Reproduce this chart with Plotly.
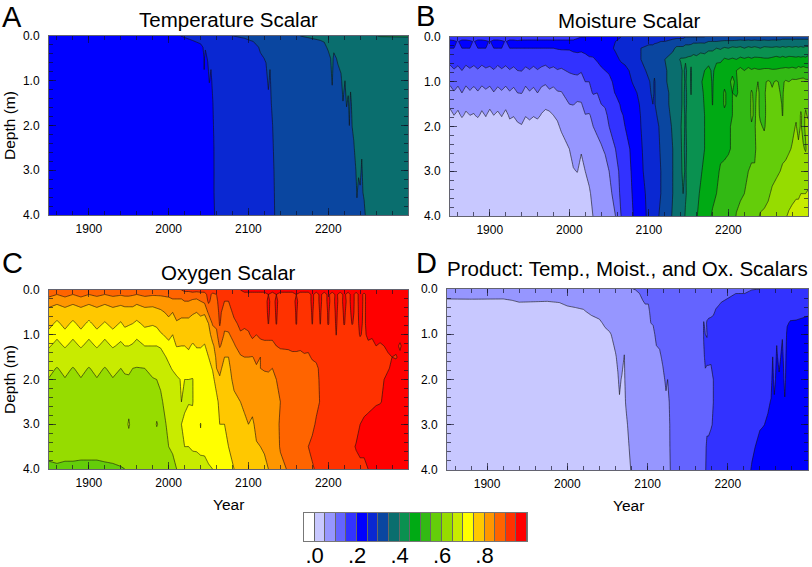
import numpy as np
import plotly.graph_objects as go

W, H = 812, 567

band_colors = ["#ffffff", "#c8c8ff", "#9696ff", "#6464ff", "#3232ff", "#0000ff", "#0a28d2", "#0a46a0",
               "#0a6e6e", "#0a9150", "#00aa14", "#32b914", "#64cd0a", "#96dc00", "#c8eb00", "#ffff00",
               "#ffc800", "#ff9600", "#ff6400", "#ff3200", "#ff0000"]
colorbar_labels = [".0", ".2", ".4", ".6", ".8"]
colorbar_label_values = [0.0, 0.2, 0.4, 0.6, 0.8]
year_ticks = [1900, 2000, 2100, 2200]
depth_ticks = [0, 1, 2, 3, 4]

# Soil scalars in percent, one profile per year
temp_depths = [0, .1, .25, .5, 1, 1.5, 2, 2.5, 3, 3.5, 4]
temp_profiles = [
 (1850,[22,22,22,22,22,22,22,22,22,22,22]),
 (1995,[23,22,22,22,22,22,22,22,22,22,22]),
 (2015,[25,22.5,22,22,22,22,22,22,22,22,22]),
 (2030,[26.5,25,22,22,22,22,22,22,22,22,22]),
 (2040,[27,26,24,22,22,22,22,22,22,22,22]),
 (2043,[27,26.5,25,22,22,22,22,22,22,22,22]),
 (2044.5,[27,27,26,25.5,24.5,22,22,22,22,22,22]),
 (2046,[27,27,25.5,23.5,22,22,22,22,22,22,22]),
 (2049,[27,27,26.5,25.5,22.5,22,22,22,22,22,22]),
 (2051,[27,27,27,27,25.3,22,22,22,22,22,22]),
 (2053,[27,27,27,26,24,22,22,22,22,22,22]),
 (2055,[27,27,27,27,26,24.5,24,24,24,23.5,23]),
 (2056.5,[27,27,27,27,27,26,25.3,24.7,24.5,24.7,24]),
 (2058,[27,27,27,27,27,27,27,26.5,26.5,26,25.5]),
 (2060,[27,27,27,27,27,27,27,27,27,27,27]),
 (2075,[29,27,27,27,27,27,27,27,27,27,27]),
 (2081,[30,27,27,27,27,27,27,27,27,27,27]),
 (2095,[31,29,27,27,27,27,27,27,27,27,27]),
 (2106,[32,30.5,27,27,27,27,27,27,27,27,27]),
 (2115,[32,32,31,29,27,27,27,27,27,27,27]),
 (2122,[32,32,32,30.5,28,27,27,27,27,27,27]),
 (2125,[32,32,32,32,31,28.5,27.5,27,27,27,27]),
 (2127,[32,32,32,31,29,27.5,27,27,27,27,27]),
 (2129,[32,32,32,32,32,30.5,28,27.5,27,27,27]),
 (2131,[32,32,32,32,32,32,31,29.7,29,28,27.5]),
 (2132.5,[32,32,32,32,32,32,32,32,30.5,30,29.7]),
 (2134,[32,32,32,32,32,32,32,32,32,31,31]),
 (2136,[32,32,32,32,32,32,32,32,32,32,32]),
 (2165,[35,32,32,32,32,32,32,32,32,32,32]),
 (2186,[37,34.5,32,32,32,32,32,32,32,32,32]),
 (2195,[37,35.5,33.5,32,32,32,32,32,32,32,32]),
 (2200,[37,36.5,36,33,32,32,32,32,32,32,32]),
 (2203,[37,37,36.5,35,33,32,32,32,32,32,32]),
 (2205,[37,37,37,36.5,35.5,33,32,32,32,32,32]),
 (2207,[37,37,36,34,32,32,32,32,32,32,32]),
 (2212,[37,37,37,35.5,33.5,32,32,32,32,32,32]),
 (2216,[37,37,37,36,34.5,33,32,32,32,32,32]),
 (2218.5,[37,37,37,37,36,34.9,33,32,32,32,32]),
 (2221,[37,37,37,36,35,33.5,32,32,32,32,32]),
 (2223,[37,37,37,37,37,35.3,33.5,32,32,32,32]),
 (2225,[37,37,37,37,36,34.5,32.5,32,32,32,32]),
 (2226.5,[37,37,37,37,37,36,35,33,32,32,32]),
 (2228,[37,37,37,37,36,34,33,32,32,32,32]),
 (2230,[37,37,37,37,37,36,35.1,33.5,32,32,32]),
 (2232,[37,37,37,37,37,37,36,34.5,33,32,32]),
 (2234,[37,37,37,37,37,37,37,36,34.5,33,32]),
 (2236,[37,37,37,37,37,37,37,37,36,35.3,34]),
 (2238,[37,37,37,37,37,37,37,37,35.5,34,33]),
 (2240,[37,37,37,37,37,37,37,37,36,34.5,33]),
 (2242,[37,37,37,37,37,37,37,35.5,34.5,34.5,33.5]),
 (2245,[37,37,37,37,37,37,37,37,37,35.5,34]),
 (2247,[38,37,37,37,37,37,37,37,37,36,35.4]),
 (2249,[38,37,37,37,37,37,37,37,37,37,37]),
 (2265,[40.5,37,37,37,37,37,37,37,37,37,37]),
 (2300,[41,37,37,37,37,37,37,37,37,37,37]),
]

moist_depths = [0, .1, .25, .5, .75, 1, 1.25, 1.5, 1.75, 2, 2.5, 3, 3.5, 4]
moist_profiles = [
 (1850,[18,21,20,17,13,11,8,6,3.5,3,2,2,2,2]),
 (1855,[18,20.5,20,17,14.7,11,9.8,6,5,3.5,2,2,2,2]),
 (1860,[18,19.8,20,17,13.5,11,8.5,6,4.2,3,2,2,2,2]),
 (1865,[18,21,20,17,15,11,10,6,5.5,3,2,2,2,2]),
 (1870,[18,21,20,17,13.2,11,8.3,6,4.4,3,2,2,2,2]),
 (1875,[18,20.5,20,17,14.5,11,9.7,6,5,3.5,2,2,2,2]),
 (1880,[18,19.8,20,17,13.4,11,8.6,6,4.8,3,2,2,2,2]),
 (1885,[18,21,20,17,14.7,11,9.8,6,5.5,3,2,2,2,2]),
 (1890,[18,21,20,17,13.2,11,8.3,6,4.3,3,2,2,2,2]),
 (1895,[18,20.5,20,17,14.4,11,9.5,6,5.2,3.5,2,2,2,2]),
 (1900,[18,19.8,20,17,13.8,11,8.5,6,3.8,3,2,2,2,2]),
 (1905,[18,21,20,17,14.8,11,9.9,6,5,3.5,2,2,2,2]),
 (1910,[18,21,20,17,13.4,11,8.8,6,4.4,3,2,2,2,2]),
 (1915,[18,20.5,20,17,14.6,11,9.7,6,5.2,3.5,2,2,2,2]),
 (1920,[18,19.8,20,17,13.5,11,8.5,6,4,3,2,2,2,2]),
 (1925,[18,21,20,17,14.8,11,9.8,6,5.5,4,2,2,2,2]),
 (1930,[18,21,20,17,14,11,9,6,5.2,3.5,2,2,2,2]),
 (1935,[18,20.5,20,17,15,11,10,6,5.8,4.5,2,2,2,2]),
 (1940,[18,21,20,17,15.2,11,10.2,6,5.9,4.8,2,2,2,2]),
 (1945,[18,21,20,17,14,11,8.5,6,5.2,3.5,2,2,2,2]),
 (1950,[18,21,20,17,14.8,11,9.8,6,5.7,4,2,2,2,2]),
 (1955,[18,21,20,17,13.8,11,9,6,5.2,3.5,2,2,2,2]),
 (1960,[18,21,20,17,14.8,11,10,6,5.6,3.8,2,2,2,2]),
 (1965,[18,21,20,17,14,11,8.8,6,4.8,3,2,2,2,2]),
 (1970,[18,21,20,17,13.2,10.7,8,5.9,4,3,2,2,2,2]),
 (1975,[18,21,20,17,14.5,11,9.5,6,4.4,3.5,2,2,2,2]),
 (1980,[18,21,20,17,14,11,8.8,6.5,5,3.5,2,2,2,2]),
 (1985,[18,21,20.3,17,14.8,11,9.8,7,5.5,4.5,2.5,2,2,2]),
 (1990,[18,21,20.5,17,14.5,11.5,9.8,8,6.5,5.5,3.5,2,2,2]),
 (2000,[18,21,20.5,17.5,15.5,13,11.5,10,8.5,7.5,5,3.5,2,2]),
 (2005,[18,21,21,18,15.5,14,11,10.1,9,7.5,6,4.8,2.8,2]),
 (2010,[19,22,21,18.5,16,13.5,11,9.7,8.5,8,6.5,5.1,3,2]),
 (2015,[20,22,21,18,15.3,13.5,12,9.6,9,8,5.3,4,3,2]),
 (2020,[20,23,21,19,16.5,15,13,12,9.8,8.5,7,5,3.5,2]),
 (2025,[21,23,21.5,19.5,17.5,15,14,12.5,9.5,9,7.5,6,4.5,2.5]),
 (2030,[22,23,22,19.5,17.5,16,15.3,13,11.5,10,8,7,6,5.2]),
 (2035,[23,23,22,20.5,18,17.2,15,14,12,11,8.5,7.5,6,5]),
 (2040,[24,24,23,21,19.5,17.5,16,15,12.5,11.5,9.6,8,7,6]),
 (2045,[24,24.5,23.5,21.5,20,18.5,17,15.5,14,12,10.5,8.5,7.5,6.5]),
 (2050,[24,25,24,22,20.5,19,18,17,16,15,12,10,8.5,7]),
 (2058,[24,25,25.5,24,22,21,20.3,18,17,16,15,13,12,10]),
 (2065,[25,26,27,25.5,23.5,22,21,20.6,19.5,18.5,17.5,16.5,16,15]),
 (2070,[26,27,28,26,24,23,22,21,20.5,20,18.5,17.5,17,16.5]),
 (2080,[27,28,29,28,26,25.3,24,23,22,21.5,21,20.8,20.4,19.9]),
 (2090,[27,28.5,30,30,28.5,27,26,25.5,25.2,25,24.8,24.6,24,23]),
 (2100,[27,29,31,31,31,29.7,29,28,27,26.5,26,26,25.8,26]),
 (2105,[28,29,31,32,31,31,31,30,28.5,27.5,27,27,27,27]),
 (2107,[28,29.5,31,32,31,29.5,29.5,29.5,29,28.5,28,28,28,28]),
 (2110,[28,29.5,31.5,32.5,32,32,31.5,31.5,30,29,28.5,29,28.7,29]),
 (2115,[28,30,32,33,33,32,32,32,31.5,31,30.5,30,30,31]),
 (2120,[28,30,33,35,34,34.5,34.8,33,32,32,31.5,31,31,32]),
 (2125,[28.5,30.5,33,36,36,35.5,35,35,34.5,34,33.5,33.5,33,33.5]),
 (2130,[29,31,34,37,37.5,37,36,36,36,35.5,35,35,35,35.5]),
 (2135,[29,32,36,38.5,38,38,37.5,37.5,37.5,37,37,37,36.5,37]),
 (2140,[29,32,36,40.5,38.5,39,39,39,39.5,39.8,39.5,39,38,37.5]),
 (2143,[29,32,36,40.5,41,41,41,41,41,41,41,41,40,38.5]),
 (2146,[30,33,37,40.5,39,39.5,39,39,39.5,39.5,39,39.5,39.5,40.5]),
 (2150,[30,33,37,41,42,42,42,42,42,42,42,42,41.5,41]),
 (2153,[30,33,37.5,41,39.5,39.5,39.8,41,42,42,42,42,42,42]),
 (2156,[30,34,38,41.5,43,43,43,43,43,43,43,43,43.5,43.5]),
 (2160,[30,34,38,41,43,43,43,43,43,43,43,43,44,44.8]),
 (2165,[30,34,38.5,42,44,44.5,44,44,44,44,44,44.5,45.5,46]),
 (2170,[30,34,38,42,45,46,45.5,45.2,45,45,45,46,47,47]),
 (2175,[31,35,39,43,46.5,47,47,47,47,47,47,47,48,49]),
 (2180,[31,35,39,43,44,44.5,44.7,44.9,46,47,47,48,49,50.5]),
 (2185,[31,35,40,44,47,48,48,48,48,48,48,49,50,51]),
 (2190,[31,35.5,39.5,44,47.5,48,48,48,48,49,49,50.5,51,51]),
 (2195,[31,36,40.5,45.5,48,49,50.5,50.5,49,49,49,51,51.5,52]),
 (2200,[31,36,40,45,49,49.5,49,49,49.5,49.5,49.5,51.5,52,52]),
 (2205,[31,36,41,45.5,49.5,50.5,50,50,50,50.5,50.5,52,53,53.5]),
 (2210,[32,36,40.5,45,50,49.5,49,52,52,52,52,53,54,55.2]),
 (2215,[32,36.5,41,46,51.5,52,52,52,52,52,52,53,54.5,56]),
 (2220,[32,36,40,45.5,50,53,52,53,53,53,53,54,55,56.5]),
 (2225,[32,36.5,41,46,51.5,53.5,53,53.5,54,54,54,55,56,57.5]),
 (2229,[32,36,40.5,45.5,50.5,53.5,55.5,55.5,55.3,54.8,54.5,55.3,57,58.5]),
 (2233,[32,36.5,41,46,51,53.5,54,54.5,54.7,54.8,54.5,55.3,57,59]),
 (2237,[32,36,40.5,46,50.5,55,56,56,55.8,56,56,56.5,58,59.7]),
 (2240,[32,36,40,46,50.5,54,54,54,54.5,55.5,56.5,57,59,60.2]),
 (2245,[32,36.5,41,45.5,51,54.5,54.5,54,54,54.5,57,57.5,59,60.5]),
 (2250,[32,36,40.8,45.5,51,55.5,56.5,57,57,57,57.5,58,59.5,61]),
 (2255,[32,36.5,40.5,46,50.5,54.5,55.5,57,57,57,57.5,59,60.5,62]),
 (2260,[32,36.5,41,46.5,50.5,55.5,57,57,57.5,57.5,58,59.5,61,62.5]),
 (2265,[32.5,36.5,40.5,46,51,54.5,55,56,57,58,58.5,60,62,63.5]),
 (2268,[33,37,41,46.5,51,54.5,54.5,54.5,54.8,58,59,60.5,62,64]),
 (2272,[33,37,40.5,46,51.5,55.5,57,58,58,58,59,61,62.5,64.7]),
 (2276,[33,37,41,46.5,51,55,57,58,58.5,58.5,59.5,62,63.5,65.5]),
 (2280,[33,37,40.5,46.5,51.5,56,58,58,59,59,60.3,62.5,64,66]),
 (2285,[33,37,41,46,51,56,58,58,59.5,60.3,61,63,64.5,66.5]),
 (2288,[33,37,40.5,46.5,52,56,58,59,58,58.5,61,63,64.5,66.5]),
 (2291,[33,37,41,46,51.5,56.5,58,59,60.5,60.5,61.5,63,65,67]),
 (2294,[33,37,40.5,46.5,52,56.5,57.5,59,59,58.5,60.5,63,65,67]),
 (2297,[33,37,41,46,51.5,56,58,59.5,60.5,61,59.5,63.5,65,67.5]),
 (2300,[33,37,41,47,51,56,57.5,59,59.5,61,62,63.5,65.3,68]),
]

oxy_depths = [0, .1, .25, .5, .75, 1, 1.25, 1.5, 1.75, 2, 2.5, 3, 3.5, 4]
oxy_profiles = [
 (1850,[88,86.5,82.5,78,76.5,73.5,70.5,67.5,66,64.8,62.5,62,61.5,59.2]),
 (1860,[88,85,81,77.5,74,71,68.5,67,64.8,63.5,62.5,62,61.5,59.5]),
 (1870,[88,86.5,82.5,78,76.5,73.5,70.5,67.5,66,64.8,62.5,62,61.5,59.2]),
 (1880,[88,85,81,77.5,74,71,68.5,67,64.8,63.5,62.5,62,61.5,59.2]),
 (1890,[88,86.5,82.5,78,76.5,73.5,70.5,67.5,66,64.8,62.5,62,61.5,59]),
 (1900,[88,85,81,77.5,74,71,68.5,67,64.8,63.5,62.5,62,61.5,59]),
 (1910,[88,86,82.5,78,76.5,73.5,70.5,67.5,66,64.8,62.5,62,61.5,59]),
 (1920,[88,85,81,77.5,74.5,71,68.5,67,64.8,63.5,62.5,62,61.5,59.3]),
 (1930,[88,86,82.5,78,76.5,73.5,70.5,67.5,66,64.8,62.5,62,61.5,59.5]),
 (1940,[88,85.5,81.5,77.5,74.5,71.5,69,67,65,64,62.5,62,61.5,59.8]),
 (1945,[88,86,82,78,76,73,70,67.5,65.5,64.5,62.5,62,61.5,60]),
 (1950,[88,86,82,78,75.5,72.5,70,67.5,65.7,64.5,62.5,65.8,61.5,60.5]),
 (1955,[88,85.5,82,78,75,72,69.5,67,65,64,62.5,62,61.5,60.7]),
 (1960,[88,85,81,77.5,74,71,68.5,67,64.8,63.5,62.5,62,61.5,61]),
 (1970,[88,86,82.5,78,76,73,70,67.5,65,64.5,62.5,62,61.5,61]),
 (1980,[88,85.5,82,78,75.5,72.5,70,67.5,66,64.8,62.5,62.5,62,61]),
 (1985,[88,85.5,82.5,78.5,76,73,70,67.5,66,65,63,65.3,62.5,61]),
 (1990,[88,85.5,83,79,77,74.5,70.5,68,67,65.5,64.5,64,62.5,60.5]),
 (2000,[89,86,83.5,81,78.5,76,74,71,69,68,66.5,65.5,65,62.5]),
 (2005,[89,87,84,80,78,75,73.5,71.2,70.5,68,67,66,65.5,64]),
 (2010,[90,87,84,81.5,79.5,77,75.2,72.5,71,69.5,68.5,68,66.5,65]),
 (2016,[90,87,84,81,79,77,75,73,71.5,70.2,70,70,69.7,67]),
 (2020,[91,88,85,80.5,79.5,76,75,74,71.5,70,69.5,70.5,70,67.5]),
 (2025,[91,88,85,81,79,77,75.5,74,73,70,69.8,71.5,70,68.5]),
 (2030,[92,88,84,80.5,78,76.5,74.5,74,72,69.8,69.8,71,70.3,68.8]),
 (2035,[92,87,84,80,78,76.5,75.2,74,73.5,72.5,72,71.5,70.3,69]),
 (2040,[92,88,85,81,78,75.5,75.2,74,73,72.5,72,69.9,70.5,69.2]),
 (2045,[92,88,86,80.5,78,76,74.8,73.5,73,72.5,72,71.5,70.5,69.3]),
 (2050,[93,92,91,86,80,78,76,75,74,73,72.5,72,71,69.7]),
 (2055,[92,89,88,87,85.5,82,79,76.5,75.2,74,73,72,71.3,70]),
 (2060,[92,90,89,88,86,84,82,81,80,76.5,74,73,72,70.3]),
 (2064,[92,93,92,91,90.5,88,85.5,82,81,79.5,76,75,73,71]),
 (2070,[93,91,90,88,86,84.5,83,80,78.5,78,76.5,75,73.5,71.5]),
 (2075,[93,92,90,88,86.5,84.5,82,80,79,78.5,77,76,75,73]),
 (2082,[94,93,92,91,89,86.5,84.5,83,82,81,79,78,77,75]),
 (2090,[95,93.5,93,92,91,89.5,87,84.5,83,82,80,79,78.5,78]),
 (2095,[96,94,93,92,90.8,89,86,85,83.5,82,80.5,79.5,78.5,78]),
 (2100,[96,94,93,92,91,89.5,87,85,84,83,81.5,80,79,78.5]),
 (2105,[96,94,93,92,91,90.8,88.5,84.8,84.5,83,82,79,79,78.5]),
 (2110,[96,94,93,92,91,90,88,86,84.5,83.5,82,81.5,79.5,78.5]),
 (2115,[96,94,93,92,91,90.5,89.2,85,85,83.5,82,80.5,80,79]),
 (2120,[96,94,93,92,91.5,90.5,89.5,87,85.5,83.5,82,81,80.5,79]),
 (2125,[96,95,96,96,95.2,90.5,89.5,87.5,85.5,84,82.5,81.5,81,80]),
 (2130,[96,94,93,92,91.5,91,89,87.5,85,84,83,82.5,82,81]),
 (2135,[96,95,96,95.8,95.3,91,90,88,86,85,84.5,84,83,82]),
 (2140,[96,94,93,92,91.5,91,90.5,88.5,87,86,85,85.5,85.5,83.5]),
 (2150,[96,94,93,92,91.5,91.2,90.5,89,87,86.5,86.5,86.5,86.5,85.5]),
 (2155,[96,94,93,92.5,92,91.5,90.5,89.5,88,87,87,87,87,86.5]),
 (2160,[96,95,96,95.5,95.3,91.5,90.5,89.5,88,87,87.2,87.5,87.5,87]),
 (2165,[96,94,93,92.5,92,91.5,90.7,89,88,87.5,87.5,87.5,88,87.5]),
 (2170,[96,94,93,92.5,92,91.5,91,89.5,88.5,88,88,88,88.5,88]),
 (2175,[96,94,93,92.5,92,91.5,91,89.3,88.5,88,88.5,88.5,90,88.5]),
 (2180,[96,95.5,96,95.5,95.2,92,91,90.5,88.5,88.5,88.5,89,91,89.5]),
 (2185,[96,94,93,92.5,92,92,91,90.5,89.5,89,89,90.5,91,90.5]),
 (2190,[96,95.5,96,95.5,95.2,92,91,91,90.5,90.5,90.2,91,91.5,91.5]),
 (2195,[96,94,93,92.5,92,92,91.5,91.5,91,91,91,91.5,92,92]),
 (2200,[96,95.5,96,95.5,95.4,92,92,92,91.5,91.5,91.5,92,92,92]),
 (2205,[96,94,93.5,93,92.5,92,92,92,92,92,92,92.5,92.5,92.5]),
 (2210,[96,95.5,96,95.7,95.5,95.1,92.5,92,92,92,92,92.5,93,93]),
 (2215,[96,94,93.5,93,92.5,92.5,92.5,92.5,92.5,92.5,92.5,93,93,93]),
 (2220,[96,95.5,96,95.6,95.3,93,93,92.5,93,93,93,93,93.5,93.5]),
 (2225,[96,94,94,93.5,93,93,93,93,93,93,93,93.5,94,94]),
 (2230,[96,96,96,95.8,95.2,93,93,93,93,93,93,94,94.5,94]),
 (2235,[96,94,94,94,94,94,94,94,94,94,94,94,95.2,94]),
 (2240,[96,96,96,95.8,95.6,95.2,94,94,94,94,94,95,95.5,94.5]),
 (2245,[96,94.5,94.5,94.5,94.5,94.5,94,94,94,94,94,95.5,95.5,94.5]),
 (2250,[96,96,96,96,96,95.5,94.5,94,94,94,94.2,95.8,96,95]),
 (2255,[96,95.5,96,96,96,95.5,94,94,94.2,94.3,94.5,96,96,95.8]),
 (2260,[96,96,96,96,96,95.5,95,94,94.3,94.5,94.8,96,96,96]),
 (2265,[96,96,96,96,96,95.5,94.8,94.5,94.5,94.8,94.9,96,96,96]),
 (2270,[96,96,96,96,96,95.5,95,94.7,94.7,95,95.2,96,96,96]),
 (2275,[96,96,96,96,96,96,95.3,94.8,94.9,95.3,96,96,96,96]),
 (2280,[96,96,96,96,96,96,95.5,95,95.2,96,96,96,96,96]),
 (2285,[96,96,96,96,96,96,95.3,94.9,95.5,96,96,96,96,96]),
 (2290,[96,96,96,96,96,95.5,94.8,95.3,96,96,96,96,96,96]),
 (2295,[96,96,96,96,96,96,95.5,96,96,96,96,96,96,96]),
 (2300,[96,96,96,96,96,96,96,96,96,96,96,96,96,96]),
]

prod_depths = [0, .1, .25, .5, .75, 1, 1.5, 2, 2.5, 3, 3.5, 4]
prod_profiles = [
 (1850,[8,7,4.5,3,3,3,3,3,3,3,3,3]),
 (1880,[8,7,4.6,3,3,3,3,3,3,3,3,3]),
 (1920,[8,7,4.5,3,3,3,3,3,3,3,3,3]),
 (1940,[8,7,5.4,3,3,3,3,3,3,3,3,3]),
 (1975,[8,7,5.2,3,3,3,3,3,3,3,3,3]),
 (1990,[8,7,5.5,3,3,3,3,3,3,3,3,3]),
 (2000,[8,7,6,4,3,3,3,3,3,3,3,3]),
 (2010,[8,7,6.4,4.2,3,3,3,3,3,3,3,3]),
 (2020,[8,7,7,4.5,3,3,3,3,3,3,3,3]),
 (2030,[8,7,7,6,3,3,3,3,3,3,3,3]),
 (2040,[8,7,7,7,4,3,3,3,3,3,3,3]),
 (2047,[8,7,7,7,6,3.5,3,3,3,3,3,3]),
 (2053,[8,7,7,7,7,4.5,3,3,3,3,3,3]),
 (2056,[8,7,7,7,7,5.5,3,3,3,3,3,3]),
 (2060,[8,7,7,7,7,7,4.5,3,3,3,3,3]),
 (2063,[8,7,7,7,7,7,6,4.5,3,3,3,3]),
 (2065,[8,7,7,7,7,7,7,6,4.5,3,3,3]),
 (2068,[8,7,7,7,7,7,7,4.5,3.5,3,3,3]),
 (2071,[8,7,7,7,7,7,4.8,4,3.5,3,3,3]),
 (2073,[8,7,7,7,7,7,7,7,5.5,3.5,3,3]),
 (2075,[9,7,7,7,7,7,7,7,7,5,4,3]),
 (2077,[10,8,7,7,7,7,7,7,7,7,5,4]),
 (2079,[10,8,7,7,7,7,7,7,7,7,7,5]),
 (2082,[10,8,7,7,7,7,7,7,7,7,7,7]),
 (2085,[10.5,8,7,7,7,7,7,7,7,7,7,7]),
 (2090,[11,10,7.5,7,7,7,7,7,7,7,7,7]),
 (2094,[12,11,10,9,7.5,7,7,7,7,7,7,7]),
 (2097,[12,12,10.5,9,8,7,7,7,7,7,7,7]),
 (2101,[12,12,10.5,9,7.5,7,7,7,7,7,7,7]),
 (2104,[12,12,12,11,10,8,7,7,7,7,7,7]),
 (2107,[12,12,12,11,10.3,9,7,7,7,7,7,7]),
 (2111,[12,12,12,12,12,11,9,7,7,7,7,7]),
 (2115,[12,12,12,12,12,12,9,7.5,7,7,7,7]),
 (2119,[12,12,12,12,12,12,11,8.5,7,7,7,7]),
 (2123,[12,12,12,12,12,12,12,11,9,7.5,7,7]),
 (2125,[12,12,12,12,12,12,12,10,8.5,7.5,7,7]),
 (2127,[12,12,12,12,12,12,12,12,10,9,8.5,8]),
 (2129,[12,12,12,12,12,12,12,12,12,12,12,11]),
 (2150,[12,12,12,12,12,12,12,12,12,12,12,12]),
 (2168,[12,12,12,12,12,12,12,12,12,12,12,12]),
 (2170,[12,12,12,12,15.4,15.4,14.2,13,12,12,12,12]),
 (2172,[12,12,12,12,13.5,15,16,14,13,13,14,14.5]),
 (2174,[12,12,12,13,15.5,14.9,15.6,14,14,14,16,16.5]),
 (2176,[12,12,12,13.5,16,16,15.6,14,14,14,16,17]),
 (2179,[12,12,12,14,16,17,15.5,14,14,14.5,17,17]),
 (2182,[12,12,13,14.5,16,17,16,15,15,15.5,17,17]),
 (2185,[12,13,14,15.3,17,17,17,17,17,17,17,17]),
 (2192,[13,14,14.8,16,17,17,17,17,17,17,17,17]),
 (2200,[14,14.5,15.2,17,17,17,17,17,17,17,17,17]),
 (2210,[14.5,15,16,17,17,17,17,17,17,17,17,17]),
 (2221,[14.5,15,16.5,17,17,17,17,17,17,17,17,17]),
 (2230,[14.8,15.8,17,17,17,17,17,17,17,17,19,20.5]),
 (2240,[15,16,17,17,17,17,17,17,17,19.5,21.5,22]),
 (2244,[15.2,16.5,17,17,17,17,17,17,18,19.8,22,22]),
 (2250,[16,17,17,17,17,17,17,18,19.5,20.5,22,22]),
 (2254,[16,17,17,17,17,17,18,19,20.2,22,22,22]),
 (2256,[17,17,17,17,17,18.5,20,21,22,22,22,22]),
 (2258,[17,17,17,17,17,17,18,19,20.5,22,22,22]),
 (2261,[17,17,17,17,18,19.5,20.5,21,22,22,22,22]),
 (2264,[17,17,17,17,17,17,19,20.5,22,22,22,22]),
 (2268,[17,17,17,17,18,19.7,21,22,22,22,22,22]),
 (2271,[17,17,17,17,17,17,18,19,20.3,22,22,22]),
 (2274,[17,17,17,18,19.5,21,22,22,22,22,22,22]),
 (2278,[17,17,17,18,20.5,22,22,22,22,22,22,22]),
 (2285,[17,17,17,18.5,20.5,22,22,22,22,22,22,22]),
 (2300,[17,17,17,19,21.5,22,22,22,22,22,22,22]),
]

colorbar_bins = list(range(21))

def px_dom(a, b, total):
    return [a / total, b / total]

def flip(a, b):
    return [1 - b / H, 1 - a / H]

# suffix, depths, profiles, x px, y px, title, title x, title y, letter, letter x, letter y
panels = [
    ("", temp_depths, temp_profiles, (49, 408), (36, 215), "Temperature Scalar", 228, 19, "A", 0, 17),
    ("2", moist_depths, moist_profiles, (450, 808), (37, 216), "Moisture Scalar", 629, 20, "B", 414, 16),
    ("3", oxy_depths, oxy_profiles, (49, 408), (290, 469), "Oxygen Scalar", 228, 273, "C", 0, 263),
    ("4", prod_depths, prod_profiles, (447, 808), (289, 470), "Product: Temp., Moist., and Ox. Scalars", 627, 269, "D", 414, 263),
]

colorscale = [[i / 20, c] for i, c in enumerate(band_colors)]
FONT = "Liberation Sans"
fig = go.Figure()
layout = dict(width=W, height=H, margin=dict(l=0, r=0, t=0, b=0), autosize=False,
              paper_bgcolor="white", plot_bgcolor="#666666", showlegend=False,
              font=dict(family=FONT, color="black"))
annotations = []
AXC = "rgba(15,15,35,0.65)"

def add_text(text, x, y, size, angle=0):
    annotations.append(dict(text=text, xref="paper", yref="paper", x=x / W, y=1 - y / H,
                            xanchor="center", yanchor="middle", showarrow=False, textangle=angle,
                            font=dict(size=size, family=FONT, color="black")))

for idx, (sfx, depths, profiles, xr, yr, title, tx, ty, letter, lx, ly) in enumerate(panels):
    years = [p[0] for p in profiles]
    z = np.array([p[1] for p in profiles], dtype=float).T / 100
    fig.add_trace(go.Contour(
        x=years, y=depths, z=z, xaxis="x" + sfx, yaxis="y" + sfx, showscale=False,
        colorscale=colorscale, autocontour=False,
        contours=dict(start=0, end=0.95, size=0.05, coloring="fill", showlines=True),
        line=dict(color="#101010", width=0.6, smoothing=0),
        hoverinfo="skip"))
    layout["xaxis" + sfx] = dict(
        domain=px_dom(xr[0], xr[1], W), anchor="y" + sfx, range=[1850, 2300], automargin=False,
        tickmode="array", tickvals=year_ticks, ticks="inside", ticklen=7, tickwidth=1, tickcolor=AXC,
        minor=dict(dtick=20, tick0=1860, ticks="inside", ticklen=4, tickwidth=1, tickcolor=AXC),
        showgrid=False, zeroline=False, showline=True, linewidth=1, linecolor=AXC, mirror="ticks",
        tickfont=dict(size=12, family=FONT), ticklabelstandoff=3)
    layout["yaxis" + sfx] = dict(
        domain=flip(yr[0], yr[1]), anchor="x" + sfx, range=[4, 0], automargin=False,
        tickmode="array", tickvals=depth_ticks, tickformat=".1f", ticks="inside", ticklen=7, tickwidth=1,
        tickcolor=AXC, minor=dict(dtick=0.2, tick0=0, ticks="inside", ticklen=4, tickwidth=1, tickcolor=AXC),
        showgrid=False, zeroline=False, showline=True, linewidth=1, linecolor=AXC, mirror="ticks",
        tickfont=dict(size=12, family=FONT), ticklabelstandoff=6)
    add_text(title, tx, ty, 20.5)
    annotations.append(dict(text=letter, xref="paper", yref="paper", x=lx / W, y=1 - ly / H,
                            xanchor="left", yanchor="middle", showarrow=False,
                            font=dict(size=29, family=FONT, color="black")))

add_text("Depth (m)", 9, 126, 15.5, -90)
add_text("Depth (m)", 9, 380, 15.5, -90)
add_text("Year", 228, 504, 15.5)
add_text("Year", 628, 505, 15.5)

fig.add_trace(go.Heatmap(
    x=[(i - 0.5) * 0.05 for i in colorbar_bins], y=[0], z=[colorbar_bins], xaxis="x5", yaxis="y5",
    zmin=0, zmax=20, colorscale=[[i / 20, c] for i, c in enumerate(band_colors)], showscale=False,
    xgap=1, hoverinfo="skip"))
layout["xaxis5"] = dict(domain=px_dom(304, 527, W), anchor="y5", range=[-0.05, 1.0], automargin=False,
                        tickmode="array", tickvals=colorbar_label_values, ticktext=colorbar_labels,
                        ticks="", showgrid=False, zeroline=False, showline=True, linewidth=1, linecolor="#777777",
                        mirror=True, tickfont=dict(size=22, family=FONT), ticklabelstandoff=-5)
layout["yaxis5"] = dict(domain=flip(513, 541), anchor="x5", range=[-0.5, 0.5], showticklabels=False, ticks="",
                        automargin=False, showgrid=False, zeroline=False, showline=True, linewidth=1,
                        linecolor="#777777", mirror=True)
layout["annotations"] = annotations
fig.update_layout(**layout)
fig.write_html("out.html", config=dict(displayModeBar=False),
               post_script="document.body.style.margin='0';document.body.style.overflow='hidden';")
